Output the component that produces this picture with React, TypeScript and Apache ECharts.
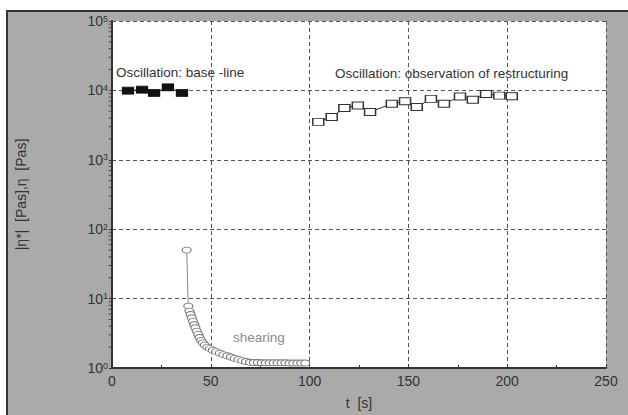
import React, { useEffect, useRef } from "react";
import * as echarts from "echarts";

// baseline oscillation (filled squares)
const baseT = [8.1, 15.2, 21.3, 28.3, 35.4];
const baseEta = [9900, 10230, 9190, 11070, 9190];

// restructuring oscillation (open squares)
const restT = [104.4, 111.2, 117.6, 124.4, 130.6, 141.6, 148.3, 154.2, 161.4, 168.0, 176.1, 182.6, 189.3, 196.0, 202.3];
const restEta = [3520, 4150, 5570, 6060, 4890, 6410, 7000, 5750, 7550, 6410, 8140, 7310, 8890, 8410, 8250];

// shearing viscosity (open circles)
const shearT = [37.8, 38.6, 39.2, 39.8, 40.4, 41.0, 41.6, 42.2, 42.9, 43.6, 44.3, 45.1, 46.0, 47.0, 48.2, 49.5, 51.0, 52.7, 54.5, 56.4, 58.3, 60.2, 62.1, 64.0, 65.9, 67.8, 69.8, 71.8, 73.8, 75.8, 77.8, 79.8, 81.8, 83.8, 85.8, 87.8, 89.8, 91.8, 93.8, 95.8, 97.8];
const shearEta = [50, 7.8, 6.6, 5.9, 5.3, 4.7, 4.2, 3.8, 3.4, 3.05, 2.75, 2.5, 2.3, 2.13, 2.0, 1.9, 1.8, 1.72, 1.64, 1.56, 1.5, 1.44, 1.38, 1.33, 1.28, 1.24, 1.21, 1.2, 1.2, 1.19, 1.19, 1.19, 1.19, 1.19, 1.19, 1.19, 1.18, 1.18, 1.18, 1.18, 1.18, 1.18];

// log minor tick positions
const minorMult = [2, 3, 4, 5, 6, 7, 8, 9];
const decades = [1, 10, 100, 1000, 10000];

const xTicks = { min: 0, max: 250, interval: 50 };

const textColor = "#333";
const font = "Liberation Sans, Arial, sans-serif";

export default function App() {
  const ref = useRef<HTMLDivElement>(null);
  useEffect(() => {
    if (!ref.current) return;
    const chart = echarts.init(ref.current, undefined, { renderer: "svg" });
    const minorData: number[][] = [];
    decades.forEach((d) => minorMult.forEach((m) => minorData.push([0, d * m])));
    const ellipse = "path://M0,5A5,5 0 1 0 10,5A5,5 0 1 0 0,5Z";
    chart.setOption({
      animation: false,
      textStyle: { fontFamily: font },
      grid: {
        left: 112,
        top: 21,
        right: 22,
        bottom: 42,
        show: true,
        backgroundColor: "#fff",
        borderWidth: 0,
      },
      xAxis: {
        type: "value",
        min: xTicks.min,
        max: xTicks.max,
        interval: xTicks.interval,
        name: "t  [s]",
        nameLocation: "middle",
        nameGap: 28,
        nameTextStyle: { color: textColor, fontSize: 14, fontFamily: font },
        axisLine: { lineStyle: { color: "#333", width: 2 } },
        axisTick: { show: true, inside: true, length: 4, lineStyle: { color: "#333" } },
        minorTick: { show: true, splitNumber: 2, length: 3, lineStyle: { color: "#333" } },
        axisLabel: { color: textColor, fontSize: 14, margin: 6, fontFamily: font },
        splitLine: { show: true, lineStyle: { color: "#555", type: [4, 3], width: 1 } },
      },
      yAxis: {
        type: "log",
        min: 1,
        max: 100000,
        logBase: 10,
        name: "|η*|  [Pas],η  [Pas]",
        nameLocation: "middle",
        nameGap: 84,
        nameTextStyle: { color: textColor, fontSize: 14, fontFamily: font },
        axisLine: { show: true, lineStyle: { color: "#333", width: 2 } },
        axisTick: { show: true, length: 3, lineStyle: { color: "#333" } },
        axisLabel: {
          margin: 4,
          formatter: (v: number) => `{b|10}{s|${Math.round(Math.log10(v))}}`,
          rich: {
            b: { fontSize: 14, color: textColor, fontFamily: font },
            s: { fontSize: 9, color: textColor, verticalAlign: "top", fontFamily: font },
          },
        },
        splitLine: { show: true, lineStyle: { color: "#555", type: [4, 3], width: 1 } },
      },
      series: [
        {
          type: "scatter",
          data: minorData,
          symbol: "rect",
          symbolSize: [3, 1],
          symbolOffset: [-2, 0],
          itemStyle: { color: "#333" },
          clip: false,
          silent: true,
          z: 1,
        },
        {
          type: "line",
          data: shearT.map((t, i) => [t, shearEta[i]]),
          symbol: ellipse,
          symbolSize: [9, 6],
          showAllSymbol: true,
          lineStyle: { color: "#888", width: 1 },
          itemStyle: { color: "#fff", borderColor: "#777", borderWidth: 1 },
          z: 3,
        },
        {
          type: "line",
          data: baseT.map((t, i) => [t, baseEta[i]]),
          symbol: "rect",
          symbolSize: [11, 7],
          showAllSymbol: true,
          lineStyle: { color: "#111", width: 1 },
          itemStyle: { color: "#111", borderColor: "#111", borderWidth: 1 },
          z: 4,
        },
        {
          type: "line",
          data: restT.map((t, i) => [t, restEta[i]]),
          symbol: "rect",
          symbolSize: [11, 7],
          showAllSymbol: true,
          lineStyle: { color: "#333", width: 1 },
          itemStyle: { color: "#fff", borderColor: "#333", borderWidth: 1.2 },
          z: 4,
        },
      ],
      graphic: [
        {
          type: "text",
          left: 116,
          top: 65,
          style: { text: "Oscillation: base -line", fill: textColor, font: `13.5px ${font}` },
        },
        {
          type: "text",
          left: 335,
          top: 66,
          style: { text: "Oscillation: observation of restructuring", fill: textColor, font: `13.5px ${font}` },
        },
        {
          type: "text",
          left: 233,
          top: 330,
          style: { text: "shearing", fill: "#8a8a8a", font: `13.5px ${font}` },
        },
      ],
    });
    return () => chart.dispose();
  }, []);
  return (
    <div style={{ position: "fixed", left: 0, top: 0, width: 628, height: 415, background: "#fff" }}>
      <div
        style={{
          position: "absolute",
          left: 6,
          top: 10,
          right: 0,
          bottom: 0,
          background: "#aaaaaa",
          borderTop: "2px solid #333",
          borderLeft: "2px solid #333",
        }}
      />
      <div ref={ref} style={{ position: "absolute", left: 0, top: 0, width: 628, height: 415 }} />
    </div>
  );
}
